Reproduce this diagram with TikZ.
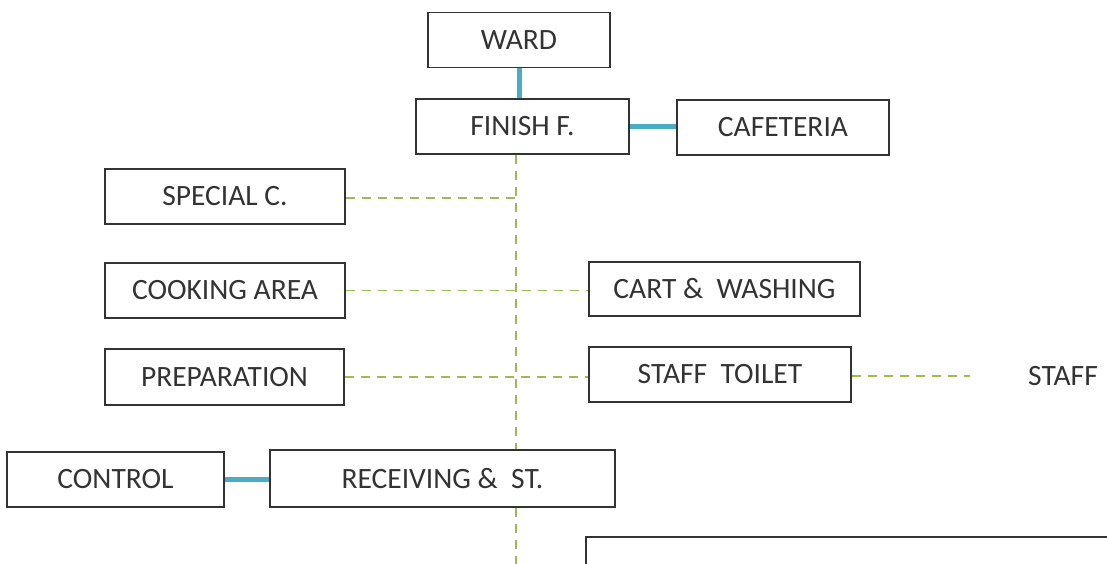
\documentclass[tikz,border=0pt]{standalone}
\usepackage{fontspec}
\setmainfont{Carlito}
\begin{document}
\begin{tikzpicture}[x=1pt,y=-1pt,
  box/.style={draw=black!80, line width=1.7pt, text=black!80, font=\fontsize{29.5}{32}\selectfont, inner sep=0pt, anchor=center},
  blue/.style={draw={rgb,255:red,75;green,172;blue,198}, line width=5pt},
  green/.style={draw={rgb,255:red,155;green,187;blue,89}, line width=1.6pt, dash pattern=on 9pt off 7pt}]
\useasboundingbox (0,0) rectangle (1107,564);
\clip (0,0) rectangle (1107,564);
\node[box, minimum width=182pt, minimum height=55pt] (ward) at (519,40) {WARD};
\node[box, minimum width=213pt, minimum height=55pt] (fin) at (522.5,126.5) {FINISH F.};
\node[box, minimum width=212pt, minimum height=55pt] (caf) at (783,127.5) {CAFETERIA};
\node[box, minimum width=240pt, minimum height=55pt] (spc) at (225,196.5) {SPECIAL C.};
\node[box, minimum width=240pt, minimum height=55pt] (cook) at (225,290.5) {COOKING AREA};
\node[box, minimum width=271pt, minimum height=54pt] (cart) at (724.5,289) {CART \& \ WASHING};
\node[box, minimum width=239pt, minimum height=56pt] (prep) at (224.5,377) {PREPARATION};
\node[box, minimum width=262pt, minimum height=55pt] (toil) at (720,374.5) {STAFF \ TOILET};
\node[text=black!80, font=\fontsize{29.5}{32}\selectfont, inner sep=0pt] (staff) at (1063,376) {STAFF};
\node[box, minimum width=217pt, minimum height=55pt] (ctrl) at (115.5,479.5) {CONTROL};
\node[box, minimum width=345pt, minimum height=57pt] (recv) at (442.5,478.5) {RECEIVING \& \ ST.};
\coordinate (bot) at (516,564);
\coordinate (send) at (970,376);
\coordinate (sj) at (516,198);
% connectors
\draw[blue] (ward.south) -- (ward.south |- fin.north);
\draw[blue] (fin.east) -- (fin.east -| caf.west);
\draw[blue] (ctrl.east) -- (ctrl.east -| recv.west);
\draw[green] (516,0 |- fin.south) -- (516,0 |- recv.north);
\draw[green] (516,0 |- recv.south) -- (bot);
\draw[green] (spc.east |- sj) -- (sj);
\draw[green] (cook.east) -- (cook.east -| cart.west);
\draw[green] (prep.east) -- (prep.east -| toil.west);
\draw[green] (toil.east |- send) -- (send);
% bottom box (cut off)
\draw[draw=black!80, line width=1.7pt] (586,600) -- (586,537) -- (1120,537);
\end{tikzpicture}
\end{document}
